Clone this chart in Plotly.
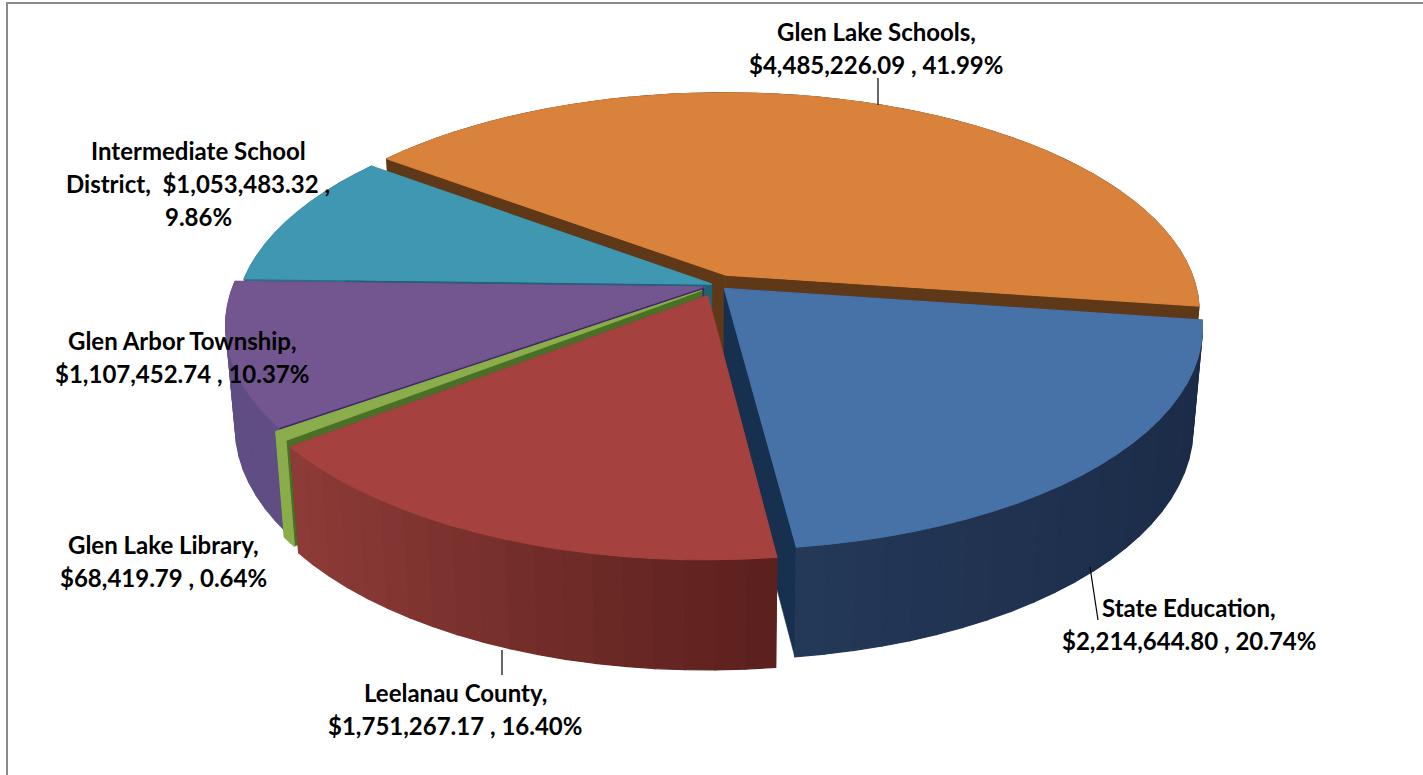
import math
import plotly.graph_objects as go

# ---- data ----
categories = ["Glen Lake Schools", "State Education", "Leelanau County",
              "Glen Lake Library", "Glen Arbor Township", "Intermediate School District"]
amounts = [4485226.09, 2214644.80, 1751267.17, 68419.79, 1107452.74, 1053483.32]
percent_labels = ["41.99%", "20.74%", "16.40%", "0.64%", "10.37%", "9.86%"]

# ---- style ----
top_colors = ["#d9823b", "#4672a8", "#a5423f", "#8bad4b", "#73558f", "#4097b2"]
cut_colors = ["#5f3917", "#17304f", "#6a2523", "#4a6f26", "#3f2a6b", "#1e6275"]
side_left = ["#5f3917", "#243858", "#8e3c38", "#8bad4b", "#5f4d84", "#2c6f85"]
side_right = ["#5f3917", "#1b2b47", "#5a201d", "#8bad4b", "#5f4d84", "#2c6f85"]
explode = [0.05, 0.022, 0.052, 0.04, 0.03, 0.012]
draw_order = [0, 5, 4, 1, 3, 2]

START = -53.0
CX, CY, A, B, P, H = 717.0, 285.0, 470.0, 216.0, 0.168, 100.0

label_lines = [
    ["Glen Lake Schools,", "$4,485,226.09 , 41.99%"],
    ["State Education,", "$2,214,644.80 , 20.74%"],
    ["Leelanau County,", "$1,751,267.17 , 16.40%"],
    ["Glen Lake Library,", "$68,419.79 , 0.64%"],
    ["Glen Arbor Township,", "$1,107,452.74 , 10.37%"],
    ["Intermediate School", "District,  $1,053,483.32 ,", "9.86%"],
]
label_x = [876, 1189, 455, 163, 182, 198]
label_y = [31, 607, 692, 544, 340, 150]
LINE_H = 33
leaders = [((878, 78), (878, 105)), ((1090, 567), (1098, 620)), ((502, 650), (502, 675))]


def proj(X, Y, z):
    w = 1 + P * Y
    return (CX + A * X / w / (1 + 0.02 * z),
            CY - B * Y / w + H / math.sqrt(w) * z)


def hexmix(c1, c2, t):
    a = [int(c1[i:i + 2], 16) for i in (1, 3, 5)]
    b = [int(c2[i:i + 2], 16) for i in (1, 3, 5)]
    return "#%02x%02x%02x" % tuple(round(u + (v - u) * t) for u, v in zip(a, b))


fig = go.Figure()


def poly(pts, color, name=None, lw=0.6):
    xs = [p[0] for p in pts] + [pts[0][0]]
    ys = [p[1] for p in pts] + [pts[0][1]]
    fig.add_trace(go.Scatter(
        x=xs, y=ys, mode="lines", fill="toself", fillcolor=color,
        line=dict(color=color, width=lw), showlegend=False,
        hoverinfo="text" if name else "skip", text=name, hoveron="fills" if name else None))


total = sum(amounts)
spans = []
a0 = START
for v in amounts:
    a1 = a0 + v / total * 360.0
    spans.append((a0, a1))
    a0 = a1

for i in draw_order:
    t0, t1 = spans[i]
    mid = math.radians((t0 + t1) / 2)
    ox, oy = explode[i] * math.sin(mid), explode[i] * math.cos(mid)
    n = max(3, int((t1 - t0) / 3))
    thetas = [math.radians(t0 + (t1 - t0) * k / n) for k in range(n + 1)]
    rim = [(ox + math.sin(t), oy + math.cos(t)) for t in thetas]
    # cut faces
    for r in (rim[0], rim[-1]):
        poly([proj(ox, oy, 0), proj(r[0], r[1], 0), proj(r[0], r[1], 1), proj(ox, oy, 1)], cut_colors[i])
    # outer wall in colour bands
    order = sorted(range(n), key=lambda k: -(rim[k][1] + rim[k + 1][1]))
    xmin = min(r[0] for r in rim)
    xmax = max(r[0] for r in rim)
    for k in order:
        r0, r1 = rim[k], rim[k + 1]
        s = ((r0[0] + r1[0]) / 2 - xmin) / max(xmax - xmin, 1e-6)
        col = hexmix(side_left[i], side_right[i], s)
        poly([proj(*r0, 0), proj(*r1, 0), proj(*r1, 1), proj(*r0, 1)], col, lw=1.2)
    # top face
    pct = percent_labels[i]
    poly([proj(ox, oy, 0)] + [proj(r[0], r[1], 0) for r in rim], top_colors[i],
         name=f"{categories[i]}: ${amounts[i]:,.2f} ({pct})", lw=1.2)

for (p0, p1) in leaders:
    fig.add_shape(type="line", x0=p0[0], y0=p0[1], x1=p1[0], y1=p1[1],
                  line=dict(color="#000000", width=1.2))

fig.add_shape(type="rect", x0=7, y0=3, x1=1435, y1=790, line=dict(color="#8a8a8a", width=2))

for lines, lx, ly in zip(label_lines, label_x, label_y):
    for j, txt in enumerate(lines):
        fig.add_annotation(x=lx, y=ly + j * LINE_H, text=f"<b>{txt}</b>", showarrow=False,
                           xanchor="center", yanchor="middle",
                           font=dict(family="Lato", size=24, color="#000000"))

fig.update_layout(
    width=1423, height=775, margin=dict(l=0, r=0, t=0, b=0),
    paper_bgcolor="#ffffff", plot_bgcolor="#ffffff", showlegend=False,
    xaxis=dict(range=[0, 1423], visible=False, fixedrange=True),
    yaxis=dict(range=[775, 0], visible=False, fixedrange=True),
)
fig.write_html("out.html", config={"displayModeBar": False},
               post_script="document.body.style.margin='0';document.documentElement.style.overflow='hidden';")
